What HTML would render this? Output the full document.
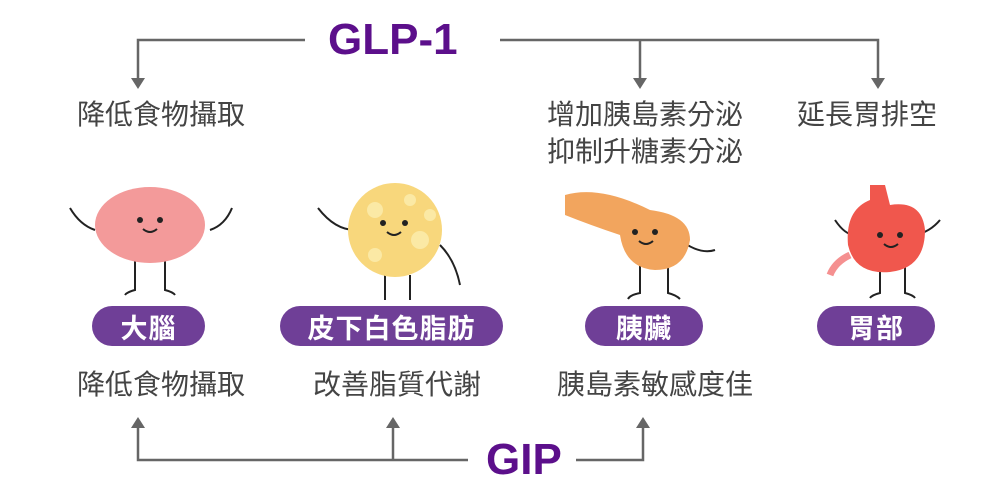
<!DOCTYPE html>
<html><head><meta charset="utf-8"><style>
body{margin:0;width:1000px;height:501px;background:#fff;position:relative;overflow:hidden;font-family:"Liberation Sans","Noto Sans CJK TC",sans-serif}
.t{position:absolute;font-size:28px;color:#444;white-space:nowrap;line-height:1}
.p{position:absolute;top:306px;height:40px;border-radius:20px;background:#6f3f97;color:#fff;font-weight:bold;font-size:27px;display:flex;align-items:center;justify-content:center;letter-spacing:1px}
.h{position:absolute;color:#5c0f8b;font-weight:bold;font-size:44px;line-height:1}
</style></head><body>
<svg width="1000" height="501" style="position:absolute;left:0;top:0">
<g stroke="#666" stroke-width="2.5" fill="none">
<path d="M305 40H138V80"/><path d="M500 40H878V80"/><path d="M640 40V80"/>
<path d="M468 460H138V426"/><path d="M393 460V426"/><path d="M576 460H643V426"/>
</g>
<g fill="#666">
<path d="M131 78h14l-7 11z"/><path d="M633 78h14l-7 11z"/><path d="M871 78h14l-7 11z"/>
<path d="M131 428h14l-7 -11z"/><path d="M386 428h14l-7 -11z"/><path d="M636 428h14l-7 -11z"/>
</g>
<g stroke="#222" stroke-width="2" fill="none">
<path d="M95 230Q80 225 70 208M210 230Q225 225 232 208"/><path d="M135 255V290q-8 2-10 5M165 255V290q8 2 10 5"/>
<path d="M355 230Q335 230 318 208M440 245Q455 260 460 285"/><path d="M385 275V300M410 275V300"/>
<path d="M610 225Q595 228 585 212M680 240Q700 255 715 250"/><path d="M640 265V293q-10 2-12 6M668 265V293q8 2 12 6"/>
<path d="M855 235Q845 235 835 220M915 235Q930 232 940 220"/><path d="M880 265V293q-8 2-10 5M905 265V293q8 2 10 5"/>
</g>
<ellipse cx="150" cy="225" rx="55" ry="38" fill="#f39a9a"/>
<circle cx="395" cy="230" r="47" fill="#f8d77c"/>
<g fill="#fbe9a5"><circle cx="375" cy="210" r="8"/><circle cx="410" cy="200" r="6"/><circle cx="420" cy="240" r="9"/><circle cx="375" cy="255" r="7"/><circle cx="430" cy="215" r="6"/></g>
<path d="M565 195Q600 185 650 210Q690 215 690 240Q685 270 655 270Q625 268 620 235Q590 225 565 215Z" fill="#f2a55e"/>
<path d="M870 185V200Q845 210 848 245Q855 275 890 272Q925 268 925 230Q922 200 890 205L885 185Z" fill="#f0574d"/>
<path d="M850 255Q835 262 830 275" stroke="#f59090" stroke-width="7" fill="none"/>
<g fill="#222"><circle cx="140" cy="220" r="3"/><circle cx="160" cy="220" r="3"/><circle cx="383" cy="223" r="3"/><circle cx="405" cy="223" r="3"/><circle cx="635" cy="232" r="3"/><circle cx="655" cy="232" r="3"/><circle cx="880" cy="235" r="3"/><circle cx="900" cy="235" r="3"/></g>
<g stroke="#222" stroke-width="2" fill="none"><path d="M143 229q7 6 14 0M387 232q7 6 14 0M639 241q7 6 14 0M884 244q7 6 14 0"/></g>
</svg>
<div class="h" style="left:328px;top:18px">GLP-1</div>
<div class="h" style="left:486px;top:438px">GIP</div>
<div class="t" style="left:77px;top:101px">降低食物攝取</div>
<div class="t" style="left:547px;top:101px">增加胰島素分泌</div>
<div class="t" style="left:547px;top:138px">抑制升糖素分泌</div>
<div class="t" style="left:797px;top:101px">延長胃排空</div>
<div class="p" style="left:92px;width:113px">大腦</div>
<div class="p" style="left:280px;width:223px">皮下白色脂肪</div>
<div class="p" style="left:585px;width:118px">胰臟</div>
<div class="p" style="left:817px;width:118px">胃部</div>
<div class="t" style="left:77px;top:371px">降低食物攝取</div>
<div class="t" style="left:313px;top:371px">改善脂質代謝</div>
<div class="t" style="left:557px;top:371px">胰島素敏感度佳</div>
</body></html>
